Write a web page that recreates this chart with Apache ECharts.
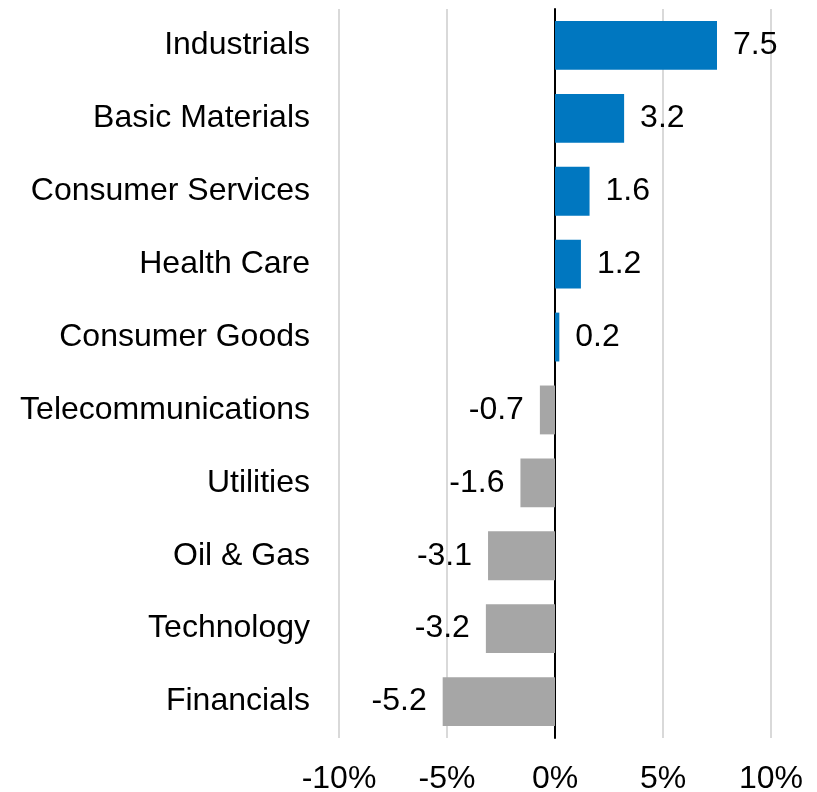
<!DOCTYPE html>
<html>
<head>
<meta charset="utf-8">
<script src="https://cdn.jsdelivr.net/npm/echarts@6/dist/echarts.min.js"></script>
<style>html,body{margin:0;padding:0;background:#fff}#c{width:817px;height:792px}</style>
</head>
<body>
<div id="c"></div>
<script>
const categories = ["Industrials","Basic Materials","Consumer Services","Health Care","Consumer Goods","Telecommunications","Utilities","Oil & Gas","Technology","Financials"];
const values = [7.5, 3.2, 1.6, 1.2, 0.2, -0.7, -1.6, -3.1, -3.2, -5.2];
const xTicks = [-10, -5, 0, 5, 10];

const FONT = '"Liberation Sans", Arial, sans-serif';
const chart = echarts.init(document.getElementById('c'), null, {renderer: 'canvas'});
chart.setOption({
  animation: false,
  grid: {left: 339, right: 46, top: 9, bottom: 54, containLabel: false, outerBoundsMode: 'none'},
  xAxis: {
    type: 'value', min: xTicks[0], max: xTicks[xTicks.length - 1], interval: 5,
    axisLine: {show: false}, axisTick: {show: false},
    splitLine: {show: true, lineStyle: {color: '#d9d9d9', width: 2}},
    axisLabel: {formatter: '{value}%', color: '#000', fontSize: 32, fontFamily: FONT, margin: 25}
  },
  yAxis: {
    type: 'category', data: categories, inverse: true,
    axisLine: {show: true, onZero: true, lineStyle: {color: '#000', width: 2}},
    axisTick: {show: false},
    axisLabel: {color: '#000', fontSize: 32, fontFamily: FONT, margin: 29, padding: [6, 0, 0, 0]}
  },
  series: [{
    type: 'bar',
    barCategoryGap: '33%',
    data: values.map(v => ({
      value: v,
      itemStyle: {color: v >= 0 ? '#0077c0' : '#a6a6a6'},
      label: {position: v >= 0 ? 'right' : 'left'}
    })),
    label: {
      show: true, distance: 16, color: '#000', fontSize: 32, fontFamily: FONT,
      padding: [6, 0, 0, 0],
      formatter: p => p.value.toFixed(1)
    }
  }]
});
</script>
</body>
</html>
